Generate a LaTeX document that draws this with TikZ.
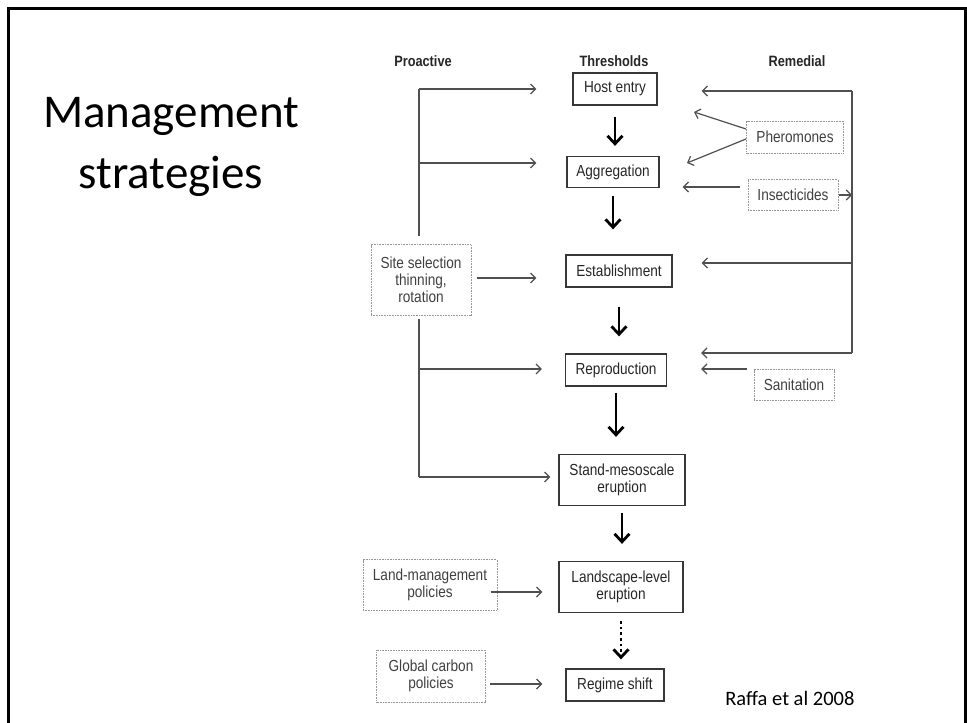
\documentclass[tikz,border=0pt]{standalone}
\usepackage{fontspec}
\usetikzlibrary{arrows.meta}
\newfontfamily\slidefont{Carlito}
\newfontfamily\figfont[FakeStretch=0.85]{Liberation Sans}
\definecolor{boxgray}{RGB}{55,55,55}
\definecolor{dotgray}{RGB}{150,150,150}
\definecolor{linegray}{RGB}{80,80,80}
\tikzset{
  thresh/.style={draw=boxgray, line width=1.3pt, inner sep=0pt, align=center,
    text=black!85, font=\figfont\fontsize{16}{17}\selectfont},
  action/.style={draw=dotgray, dash pattern=on 1pt off 0.6pt, line width=1pt,
    inner sep=0pt, align=center, text=black!75, font=\figfont\fontsize{16}{17}\selectfont},
  head/.style={font=\figfont\bfseries\fontsize{15}{17}\selectfont, text=black!85},
  bus/.style={draw=linegray, line width=1.2pt},
  conn/.style={draw=linegray, line width=1.2pt, -{Straight Barb[length=5pt,width=10pt]}},
  bigarrow/.style={line width=2.8pt, -{Straight Barb[length=8pt,width=15pt]},
    shorten <=8pt, shorten >=10pt},
}
\begin{document}
\begin{tikzpicture}[x=1pt,y=-1pt]
\useasboundingbox (0,0) rectangle (967,723);
\draw[line width=3pt] (8,723) -- (8,8) -- (965,8) -- (965,723);
\node[font=\slidefont\fontsize{47}{61}\selectfont, align=center, anchor=base] (title) at (171,188) {Management\\strategies};
\node[font=\slidefont\fontsize{20.5}{24}\selectfont, anchor=base east] (cite) at (858,705) {Raffa et al 2008};
% column heads
\node[head] (proh) at (423,61) {Proactive};
\node[head] (thrh) at (614,61) {Thresholds};
\node[head] (remh) at (797,61) {Remedial};
% thresholds
\node[thresh, minimum width=84pt, minimum height=32pt] (host) at (615,89) {Host entry};
\node[thresh, minimum width=92pt, minimum height=31pt] (agg) at (613,172) {Aggregation};
\node[thresh, minimum width=106pt, minimum height=32pt] (est) at (619,271) {Establishment};
\node[thresh, minimum width=101pt, minimum height=32pt] (rep) at (616,370) {Reproduction};
\node[thresh, minimum width=126pt, minimum height=51pt] (stand) at (622,480) {Stand-mesoscale\\eruption};
\node[thresh, minimum width=124pt, minimum height=51pt] (land) at (621,587) {Landscape-level\\eruption};
\node[thresh, minimum width=98pt, minimum height=32pt] (regime) at (615,685) {Regime shift};
% proactive and remedial actions
\node[action, minimum width=100pt, minimum height=71pt] (site) at (421,280) {Site selection\\thinning,\\rotation};
\node[action, minimum width=134pt, minimum height=51pt] (landpol) at (430,585) {Land-management\\policies};
\node[action, minimum width=109pt, minimum height=52pt] (carbon) at (431,676) {Global carbon\\policies};
\node[action, minimum width=97pt, minimum height=32pt] (pher) at (795,137) {Pheromones};
\node[action, minimum width=90pt, minimum height=31pt] (insect) at (793,195) {Insecticides};
\node[action, minimum width=80pt, minimum height=31pt] (sanit) at (794,385) {Sanitation};
% threshold chain
\draw[bigarrow, shorten <=11pt] (host.south) -- (host.south |- agg.north);
\draw[bigarrow, shorten >=25pt] (agg.south) -- (agg.south |- est.north);
\draw[bigarrow, shorten <=19pt, shorten >=17pt] (est.south) -- (est.south |- rep.north);
\draw[bigarrow, shorten <=6pt, shorten >=17pt] (rep.south) -- (rep.south |- stand.north);
\draw[bigarrow, shorten <=7pt, shorten >=17pt] (stand.south) -- (stand.south |- land.north);
\draw[bigarrow, dash pattern=on 2.6pt off 3pt, shorten >=9pt] (land.south) -- (land.south |- regime.north);
% proactive bus
\coordinate (pa1) at (419,89);
\coordinate (pa2) at (419,163);
\coordinate (pa3) at (419,369);
\coordinate (pa4) at (419,477);
\draw[bus, shorten >=8pt] (pa1) -- (pa1 |- site.north);
\draw[bus, shorten <=3pt] (pa1 |- site.south) -- (pa4);
\draw[conn, shorten >=36pt] (pa1) -- (pa1 -| host.west);
\draw[conn, shorten >=30pt] (pa2) -- (pa2 -| agg.west);
\draw[conn, shorten >=23pt] (pa3) -- (pa3 -| rep.west);
\draw[conn, shorten >=8pt] (pa4) -- (pa4 -| stand.west);
\draw[conn, shorten <=5pt, shorten >=29pt] ([yshift=2pt]site.east) -- ([yshift=2pt]site.east -| est.west);
\draw[conn, shorten <=-7pt, shorten >=16pt] ([yshift=-7pt]landpol.east) -- ([yshift=-7pt]landpol.east -| land.west);
\draw[conn, shorten <=4pt, shorten >=23pt] ([yshift=-8pt]carbon.east) -- ([yshift=-8pt]carbon.east -| regime.west);
% remedial bus
\coordinate (ra1) at (852,91);
\coordinate (ra2) at (852,263);
\coordinate (ra3) at (852,353);
\coordinate (ph1) at (694,112);
\coordinate (ph2) at (687,163);
\draw[bus] (ra1) -- (ra3);
\draw[conn, shorten >=44pt] (ra1) -- (ra1 -| host.east);
\draw[conn, shorten >=29pt] (ra2) -- (ra2 -| est.east);
\draw[conn, shorten >=34pt] (ra3) -- (ra3 -| rep.east);
\draw[conn] ([yshift=8pt]pher.west) -- (ph1);
\draw[conn] ([yshift=-2pt]pher.west) -- (ph2);
\draw[conn, shorten <=8pt, shorten >=23pt] ([yshift=8pt]insect.west) -- ([yshift=8pt]insect.west -| agg.east);
\draw[conn] (insect.east) -- (insect.east -| ra1);
\draw[conn, shorten <=7pt, shorten >=34pt] ([yshift=16pt]sanit.west) -- ([yshift=16pt]sanit.west -| rep.east);
\end{tikzpicture}
\end{document}
